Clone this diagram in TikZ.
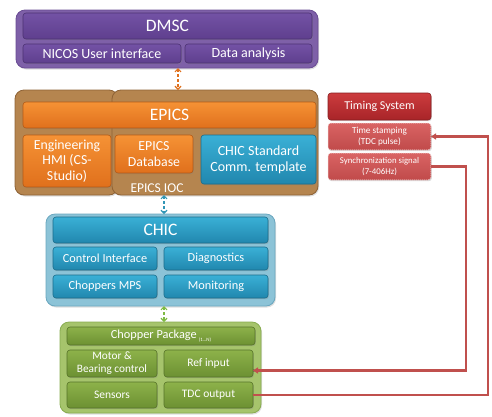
\documentclass[tikz,border=0pt]{standalone}
\usepackage{fontspec}
\setmainfont{Carlito}
\usetikzlibrary{arrows.meta,shadows}
\definecolor{purpO}{HTML}{7E60A8}
\definecolor{purpOB}{HTML}{6A4C94}
\definecolor{purpT}{HTML}{7352A5}
\definecolor{purpB}{HTML}{5F3F8E}
\definecolor{tanO}{HTML}{B5854F}
\definecolor{tanB}{HTML}{8E6235}
\definecolor{orT}{HTML}{F59235}
\definecolor{orB}{HTML}{E0701C}
\definecolor{blT}{HTML}{3AB0D6}
\definecolor{blB}{HTML}{2187AE}
\definecolor{blO}{HTML}{8CC3D7}
\definecolor{blOB}{HTML}{6AA7BF}
\definecolor{grO}{HTML}{A6C46C}
\definecolor{grOB}{HTML}{88AC50}
\definecolor{grT}{HTML}{8DB24A}
\definecolor{grB}{HTML}{6C9032}
\definecolor{rdT}{HTML}{CC3C3E}
\definecolor{rdB}{HTML}{A82428}
\definecolor{rsT}{HTML}{D96464}
\definecolor{rsB}{HTML}{C04A4A}
\definecolor{rline}{HTML}{C0504D}
\newcommand\mybox[7]{\node[#2, minimum width={(#5-#3)*1pt}, minimum height={(#6-#4)*1pt}] (#1) at ({(#3+#5)/2},{(#4+#6)/2}) {#7};}
\tikzset{
  base/.style={inner sep=0pt, outer sep=0pt, align=center, text=white},
  outer/.style={base, rounded corners=9pt, line width=0.8pt, drop shadow={opacity=0.25, shadow xshift=1pt, shadow yshift=-1.5pt}},
  inner/.style={base, rounded corners=3pt, line width=0.6pt, drop shadow={opacity=0.3, shadow xshift=0.8pt, shadow yshift=-1.2pt}},
  purpout/.style={outer, fill=purpO, draw=purpOB},
  purpin/.style={inner, top color=purpT, bottom color=purpB, draw=purpB!80!black},
  tanout/.style={outer, fill=tanO, draw=tanB},
  orin/.style={inner, top color=orT, bottom color=orB, draw=orB!80!black},
  blin/.style={inner, top color=blT, bottom color=blB, draw=blB!80!black},
  blout/.style={outer, fill=blO, draw=blOB},
  grout/.style={outer, fill=grO, draw=grOB},
  grin/.style={inner, top color=grT, bottom color=grB, draw=grB!80!black},
  rdin/.style={inner, top color=rdT, bottom color=rdB, draw=rdB!80!black},
  rsin/.style={inner, top color=rsT, bottom color=rsB, draw=white!85!rsB, dashed, dash pattern=on 1.2pt off 0.8pt},
  dbl/.style={dashed, line width=1.2pt, dash pattern=on 3pt off 2pt, {Straight Barb[length=3pt,width=6pt]}-{Straight Barb[length=3pt,width=6pt]}},
  rl/.style={line width=2.2pt, color=rline},
  rlsh/.style={line width=2.2pt, color=black, opacity=0.18},
  fH/.style={font=\fontsize{17.5}{19}\selectfont},
  fM/.style={font=\fontsize{14}{15.5}\selectfont},
  fS/.style={font=\fontsize{12.3}{14}\selectfont},
  fG/.style={font=\fontsize{11.5}{12.5}\selectfont},
}
\begin{document}
\begin{tikzpicture}[x=1pt,y=-1pt]
\useasboundingbox (0,0) rectangle (492,416);
% DMSC
\mybox{dmsc}{purpout}{16}{10}{318}{68}{}
\mybox{dmschead}{purpin, fH}{23}{13}{312}{39}{DMSC}
\mybox{nicos}{purpin, font=\fontsize{14}{15}\selectfont}{23}{44}{181}{63}{NICOS User interface}
\mybox{data}{purpin, font=\fontsize{14}{15}\selectfont}{185}{44}{312}{63}{Data analysis}
% EPICS
\mybox{epicsL}{tanout}{15}{90}{118}{195}{}
\mybox{epicsR}{tanout}{112}{90}{318}{195}{}
\mybox{epics}{orin, fH}{23}{102}{316}{128}{EPICS}
\mybox{hmi}{orin, font=\fontsize{13.8}{15.3}\selectfont}{23}{135}{111}{187}{Engineering\\HMI (CS-\\Studio)}
\mybox{db}{orin, font=\fontsize{13.8}{15.3}\selectfont}{115}{135}{193}{173}{EPICS\\Database}
\mybox{cst}{blin, font=\fontsize{14}{16}\selectfont}{201}{135}{316}{184}{CHIC Standard\\Comm. template}
\node[base, font=\fontsize{13.5}{15}\selectfont] (ioc) at (157,188.5) {EPICS IOC};
% Timing
\mybox{timing}{rdin, font=\fontsize{12}{13}\selectfont}{328}{93}{431}{120}{Timing System}
\mybox{tstamp}{rsin, font=\fontsize{9.2}{10.5}\selectfont}{328}{123}{431}{150}{Time stamping\\(TDC pulse)}
\mybox{sync}{rsin, font=\fontsize{8.8}{10.5}\selectfont}{328}{153}{431}{180}{Synchronization signal\\(7-406Hz)}
% CHIC
\mybox{chic}{blout}{46}{214}{275}{306}{}
\mybox{chichead}{blin, fH}{53}{217}{268}{243}{CHIC}
\mybox{ci}{blin, fS}{53}{247}{157}{270}{Control Interface}
\mybox{diag}{blin, fS}{164}{247}{268}{270}{Diagnostics}
\mybox{mps}{blin, fS}{53}{275}{157}{298}{Choppers MPS}
\mybox{mon}{blin, fS}{164}{275}{268}{298}{Monitoring}
% Chopper package
\mybox{cp}{grout}{60}{322}{261}{413}{}
\mybox{cphead}{grin, font=\fontsize{12.3}{13}\selectfont}{67}{327}{255}{345}{Chopper Package\,{\fontsize{5}{5}\selectfont\raisebox{-3pt}{(1…N)}}}
\mybox{motor}{grin, font=\fontsize{11.3}{12.8}\selectfont}{67}{350}{157}{377}{Motor \&\\Bearing control}
\mybox{ref}{grin, fG}{164}{350}{253}{377}{Ref input}
\mybox{sens}{grin, fG}{67}{382}{157}{408}{Sensors}
\mybox{tdc}{grin, fG}{164}{382}{253}{408}{TDC output}
% dashed double arrows
\coordinate (ax1) at (178,0);
\coordinate (ax2) at (164,0);
\draw[dbl, color=orB] (dmsc.south -| ax1) -- (epicsR.north -| ax1);
\draw[dbl, color=blT!85!black] (epicsR.south -| ax2) -- (chic.north -| ax2);
\draw[dbl, color=grT!90!green] (chic.south -| ax2) -- (cp.north -| ax2);
% red lines
\coordinate (v1) at (466,0);
\coordinate (v2) at (488,0);
\begin{scope}[shift={(1.2,1.5)}]
\draw[rlsh] (sync.east) -- (sync.east -| v1) -- ([yshift=-7pt]ref.east -| v1) -- ([yshift=-7pt]ref.east);
\draw[rlsh] (tdc.east) -- (tdc.east -| v2) -- (tstamp.east -| v2) -- (tstamp.east);
\end{scope}
\draw[rl, -{Triangle[length=5pt,width=6pt]}] (sync.east) -- (sync.east -| v1) -- ([yshift=-7pt]ref.east -| v1) -- ([yshift=-7pt]ref.east);
\draw[rl, -{Triangle[length=5pt,width=6pt]}] (tdc.east) -- (tdc.east -| v2) -- (tstamp.east -| v2) -- (tstamp.east);
\end{tikzpicture}
\end{document}
